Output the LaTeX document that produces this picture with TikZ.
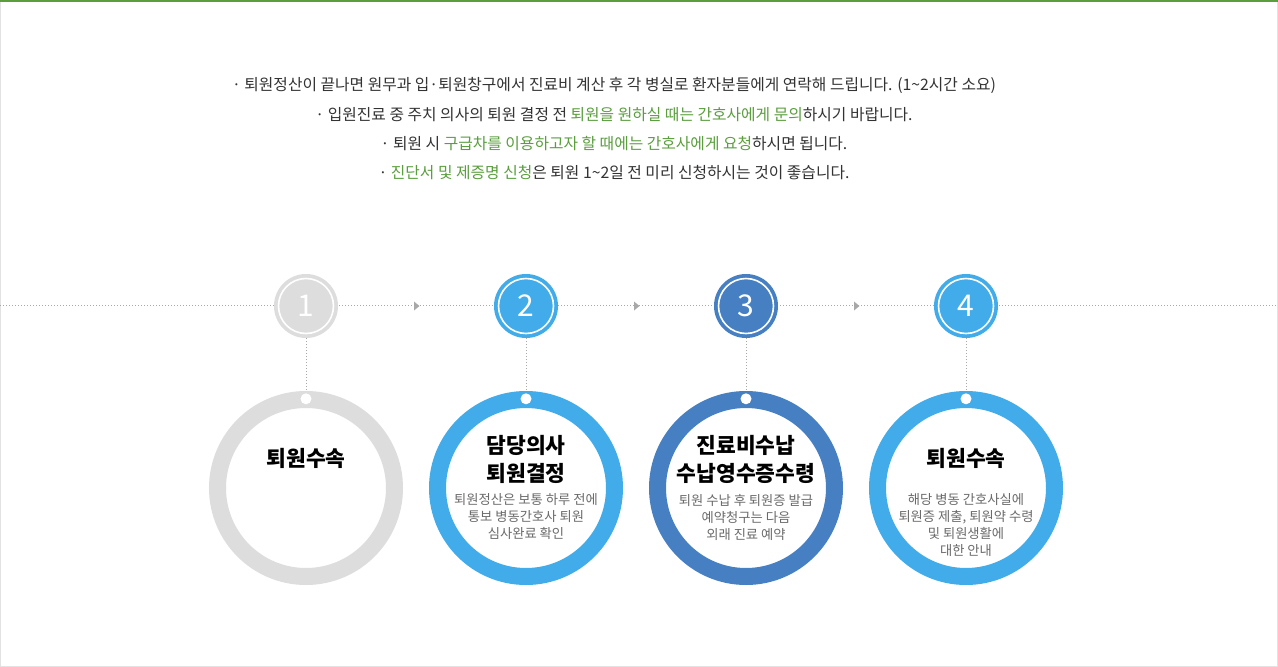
\documentclass[tikz,border=0pt]{standalone}
\usepackage{fontspec}
\setmainfont{Noto Sans CJK KR}
\usetikzlibrary{calc}
\definecolor{frame}{HTML}{E2E2E2}
\definecolor{topgreen}{HTML}{5A9E3E}
\definecolor{txt}{HTML}{333333}
\definecolor{hl}{HTML}{5A9E3E}
\definecolor{subtxt}{HTML}{6A6A6A}
\definecolor{cgray}{HTML}{DDDDDD}
\definecolor{cblue}{HTML}{41ACE9}
\definecolor{cdark}{HTML}{4680C2}
\definecolor{dotc}{HTML}{A8A8A8}
\begin{document}
\begin{tikzpicture}[x=1pt,y=-1pt,
  dotline/.style={draw=dotc, line width=1pt, dash pattern=on 1pt off 2pt},
  numcirc/.style={circle, minimum size=64pt, inner sep=0pt, text=white,
     font=\fontsize{30}{30}\selectfont},
  bigring/.style={circle, minimum size=194pt, inner sep=0pt},
  toptext/.style={inner sep=0pt, text=txt, font=\fontsize{15.8}{15.8}\selectfont},
  title/.style={inner sep=0pt, align=center, text=black, font=\bfseries\fontsize{21.5}{28}\selectfont},
  subtext/.style={inner sep=0pt, align=center, text=subtxt, font=\fontsize{13.3}{17}\selectfont}
]
\useasboundingbox (0,0) rectangle (1278,667);
\fill[white] (0,0) rectangle (1278,667);
\draw[frame, line width=1pt] (0.5,0.5) rectangle (1277.5,666.5);
\draw[topgreen, line width=2pt] (0,1) -- (1278,1);

% top text
\node[toptext] (t1) at (614,85) {·\ 퇴원정산이 끝나면 원무과 입·퇴원창구에서 진료비 계산 후 각 병실로 환자분들에게 연락해 드립니다. (1\textasciitilde 2시간 소요)};
\node[toptext] (t2) at (614,114.5) {·\ 입원진료 중 주치 의사의 퇴원 결정 전 \textcolor{hl}{퇴원을 원하실 때는 간호사에게 문의}하시기 바랍니다.};
\node[toptext] (t3) at (614,144) {·\ 퇴원 시 \textcolor{hl}{구급차를 이용하고자 할 때에는 간호사에게 요청}하시면 됩니다.};
\node[toptext] (t4) at (614,173) {·\ \textcolor{hl}{진단서 및 제증명 신청}은 퇴원 1\textasciitilde 2일 전 미리 신청하시는 것이 좋습니다.};

% timeline
\coordinate (L) at (0,305);
\coordinate (R) at (1278,305);
\draw[dotline] (L) -- (R);

\foreach \i/\x/\c in {1/306/cgray, 2/526/cblue, 3/746/cdark, 4/966/cblue}{
  \node[numcirc, fill=\c] (n\i) at (\x,306) {\i};
  \draw[white, line width=1.6pt] (n\i.center) circle (27.5);
  \node[bigring] (c\i) at (\x,488) {};
  \draw[\c, line width=17pt] (c\i.center) circle (88.5);
  \draw[dotline] (n\i.south) -- (c\i.north);
  \fill[white] ($(c\i.north)+(0,8)$) circle (5.5);
}
\foreach \a/\b in {1/2, 2/3, 3/4}{
  \fill[dotc] ($(n\a)!0.5!(n\b)+(-2,-4.5)$) -- ++(5.5,4.5) -- ++(-5.5,4.5) -- cycle;
}

% texts in big circles
\node[title] (h1) at (306,458) {퇴원수속};
\node[title] (h2) at (526,459) {담당의사\\퇴원결정};
\node[subtext] (s2) at (526,517) {퇴원정산은 보통 하루 전에\\통보 병동간호사 퇴원\\심사완료 확인};
\node[title] (h3) at (746,459) {진료비수납\\수납영수증수령};
\node[subtext] (s3) at (746,517) {퇴원 수납 후 퇴원증 발급\\예약청구는 다음\\외래 진료 예약};
\node[title] (h4) at (966,458) {퇴원수속};
\node[subtext] (s4) at (966,525.5) {해당 병동 간호사실에\\퇴원증 제출, 퇴원약 수령\\및 퇴원생활에\\대한 안내};
\end{tikzpicture}
\end{document}
